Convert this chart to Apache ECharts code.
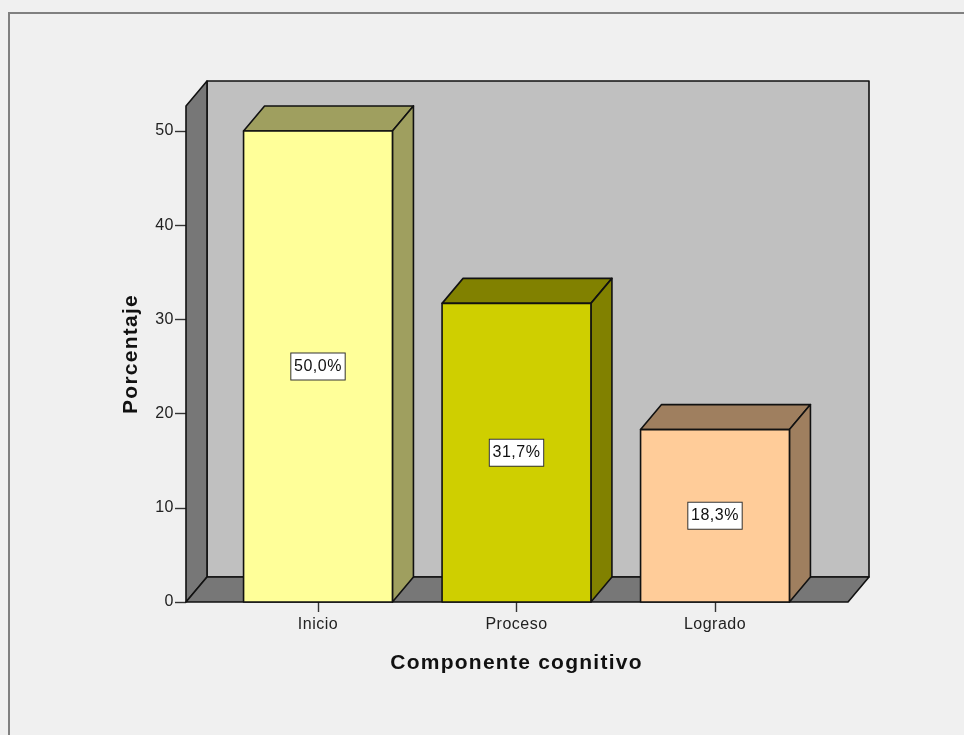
<!DOCTYPE html>
<html>
<head>
<meta charset="utf-8">
<style>html,body{margin:0;padding:0;background:#f0f0f0}#c{width:964px;height:735px}</style>
<script src="https://cdn.jsdelivr.net/npm/echarts@6/dist/echarts.min.js"></script>
</head>
<body>
<div id="c"></div>
<script>
const categories = ['Inicio', 'Proceso', 'Logrado'];
const values = [50.0, 31.7, 18.3];
const yTicks = [0, 10, 20, 30, 40, 50];
const yMax = 52.65;
const frontColors = ['#ffff99', '#cfcf00', '#ffcc99'];
const shadeColors = ['#9f9f5f', '#818100', '#9f7f5f'];
const xTitle = 'Componente cognitivo';
const yTitle = 'Porcentaje';

const DX = 21, DY = -25, PAD_L = 32.75, PAD_R = 33.75;
const EDGE = { stroke: '#111', lineWidth: 1.6, lineJoin: 'round' };
const font = '"Liberation Sans", Arial, sans-serif';

// The reference's text is letter-spaced; ECharts has no option for that, so set it on the canvas.
const nativeFillText = CanvasRenderingContext2D.prototype.fillText;
CanvasRenderingContext2D.prototype.fillText = function (text, x, y, maxWidth) {
  this.letterSpacing = /bold/.test(this.font) ? '1.25px' : '0.5px';
  const out = maxWidth === undefined ? nativeFillText.call(this, text, x, y)
                                     : nativeFillText.call(this, text, x, y, maxWidth);
  this.letterSpacing = '0px';
  return out;
};

function poly(points, fill) {
  return { type: 'polygon', shape: { points }, style: Object.assign({ fill }, EDGE) };
}
function renderWalls(params, api) {
  const g = params.coordSys;
  const l = g.x - PAD_L, r = g.x + g.width + PAD_R, b = g.y + g.height, t = g.y;
  return { type: 'group', children: [
    poly([[l + DX, t + DY], [r + DX, t + DY], [r + DX, b + DY], [l + DX, b + DY]], '#c0c0c0'),
    poly([[l, t], [l + DX, t + DY], [l + DX, b + DY], [l, b]], '#777777'),
    poly([[l, b], [l + DX, b + DY], [r + DX, b + DY], [r, b]], '#777777')
  ]};
}
function renderBar(params, api) {
  const i = api.value(0), v = api.value(1);
  const top = api.coord([i, v]), base = api.coord([i, 0]), mid = api.coord([i, v / 2]);
  const w = api.size([1, 0])[0] * 0.75;
  const l = top[0] - w / 2, r = top[0] + w / 2, t = top[1], b = base[1];
  return { type: 'group', children: [
    poly([[l, t], [l + DX, t + DY], [r + DX, t + DY], [r, t]], shadeColors[i]),
    poly([[r, t], [r + DX, t + DY], [r + DX, b + DY], [r, b]], shadeColors[i]),
    poly([[l, t], [r, t], [r, b], [l, b]], frontColors[i]),
    { type: 'text', x: mid[0], y: mid[1], style: {
      text: v.toFixed(1).replace('.', ',') + '%', fill: '#111', font: '16px ' + font,
      align: 'center', verticalAlign: 'middle',
      backgroundColor: '#fff', borderColor: '#333', borderWidth: 1,
      padding: [7, 4, 3, 4]
    } }
  ]};
}

const chart = echarts.init(document.getElementById('c'), null, { renderer: 'canvas' });
chart.setOption({
  animation: false,
  backgroundColor: '#f0f0f0',
  graphic: [{
    type: 'polyline', silent: true, z: 10,
    shape: { points: [[9, 735], [9, 13], [964, 13]] },
    style: { stroke: '#808080', lineWidth: 2, fill: null }
  }],
  grid: { left: 218.75, width: 595.5, top: 106, height: 496 },
  xAxis: {
    type: 'category', data: categories,
    name: xTitle, nameLocation: 'middle', nameGap: 51,
    nameTextStyle: { fontFamily: font, fontWeight: 'bold', fontSize: 21, color: '#111' },
    axisLine: { show: false },
    axisTick: { show: true, alignWithLabel: true, length: 10, lineStyle: { color: '#333', width: 1.4 } },
    axisLabel: { fontFamily: font, fontSize: 16, color: '#222', margin: 15 }
  },
  yAxis: {
    type: 'value', min: 0, max: yMax, position: 'left', offset: 32.75,
    name: yTitle, nameLocation: 'middle', nameGap: 44, nameRotate: 90,
    nameTextStyle: { fontFamily: font, fontWeight: 'bold', fontSize: 21, color: '#111' },
    splitLine: { show: false },
    axisLine: { show: false },
    axisTick: { show: true, length: 11, customValues: yTicks, lineStyle: { color: '#333', width: 1.4 } },
    axisLabel: { fontFamily: font, fontSize: 16, color: '#222', margin: 12, padding: [6, 0, 0, 0], customValues: yTicks }
  },
  series: [
    { type: 'custom', name: 'walls', renderItem: renderWalls, data: [[0, 0]], clip: false, silent: true, z: 1 },
    { type: 'custom', name: 'Porcentaje', renderItem: renderBar, clip: false, z: 2,
      encode: { x: 0, y: 1 },
      data: values.map((v, i) => [i, v]) }
  ]
});
</script>
</body>
</html>
